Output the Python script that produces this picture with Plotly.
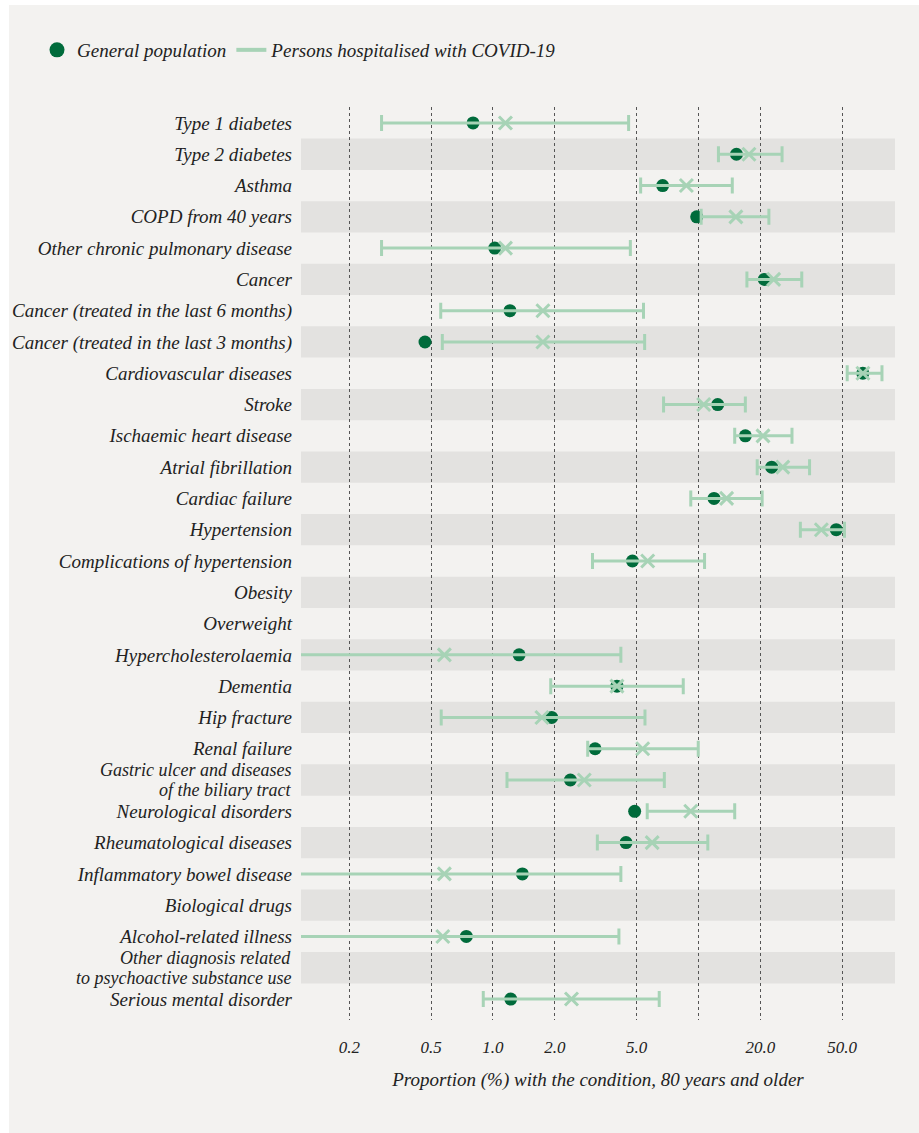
import plotly.graph_objects as go

categories = [
    "Type 1 diabetes", "Type 2 diabetes", "Asthma", "COPD from 40 years",
    "Other chronic pulmonary disease", "Cancer",
    "Cancer (treated in the last 6 months)", "Cancer (treated in the last 3 months)",
    "Cardiovascular diseases", "Stroke", "Ischaemic heart disease",
    "Atrial fibrillation", "Cardiac failure", "Hypertension",
    "Complications of hypertension", "Obesity", "Overweight",
    "Hypercholesterolaemia", "Dementia", "Hip fracture", "Renal failure",
    "Gastric ulcer and diseases<br>of the biliary tract",
    "Neurological disorders", "Rheumatological diseases",
    "Inflammatory bowel disease", "Biological drugs", "Alcohol-related illness",
    "Other diagnosis related<br>to psychoactive substance use",
    "Serious mental disorder",
]

general_pop = [0.80, 15.3, 6.69, 9.8, 1.02, 20.9, 1.21, 0.467, 63.0, 12.4, 16.9,
               22.7, 11.9, 46.8, 4.77, None, None, 1.34, 4.01, 1.93, 3.14, 2.38,
               4.89, 4.44, 1.39, None, 0.742, None, 1.22]

covid_est = [1.15, 17.6, 8.73, 15.2, 1.15, 23.2, 1.75, 1.75, 63.1, 10.6, 20.6,
             25.7, 13.7, 39.6, 5.66, None, None, 0.58, 4.01, 1.73, 5.35, 2.78,
             9.17, 5.95, 0.58, None, 0.57, None, 2.41]

covid_low = [0.287, 12.5, 5.23, 10.3, 0.287, 17.2, 0.557, 0.567, 52.9, 6.76, 15.0,
             19.3, 9.17, 31.3, 3.05, None, None, 0.05, 1.91, 0.56, 2.89, 1.17,
             5.63, 3.22, 0.05, None, 0.05, None, 0.897]

covid_high = [4.57, 25.5, 14.6, 22.0, 4.66, 31.8, 5.40, 5.47, 78.1, 16.9, 28.5,
              34.7, 20.4, 51.3, 10.7, None, None, 4.19, 8.43, 5.49, 9.97, 6.82,
              15.0, 11.1, 4.19, None, 4.10, None, 6.44]

tick_vals = [0.2, 0.5, 1.0, 2.0, 5.0, 10.0, 20.0, 50.0]
tick_text = ["0.2", "0.5", "1.0", "2.0", "5.0", "", "20.0", "50.0"]

DARK = "#006b3b"
LIGHT = "#a7d3b6"
PANEL = "#f3f2f0"
BAND = "#e3e2e0"
TEXT = "#222222"
FONT = "Liberation Serif"
YSIZE = 19
MULTI_SIZE = 18
LINE_GAP = 20

err_plus = [None if h is None else h - e for h, e in zip(covid_high, covid_est)]
err_minus = [None if l is None else e - l for l, e in zip(covid_low, covid_est)]

fig = go.Figure()

fig.add_trace(go.Scatter(
    x=general_pop, y=categories, mode="markers",
    marker=dict(symbol="circle", size=13, color=DARK),
    showlegend=False, hoverinfo="skip",
))

fig.add_trace(go.Scatter(
    x=covid_est, y=categories, mode="markers",
    marker=dict(symbol="x-thin", size=13, color=LIGHT, line=dict(color=LIGHT, width=3)),
    error_x=dict(type="data", symmetric=False, array=err_plus, arrayminus=err_minus,
                 color=LIGHT, thickness=3, width=8),
    showlegend=False, hoverinfo="skip",
))

# legend entries
fig.add_trace(go.Scatter(
    x=[None], y=[None], mode="markers", name="General population",
    marker=dict(symbol="circle", size=15, color=DARK),
))
fig.add_trace(go.Scatter(
    x=[None], y=[None], mode="lines", name="Persons hospitalised with COVID-19",
    line=dict(color=LIGHT, width=4),
))

shapes = []
for i in range(len(categories)):
    if i % 2 == 1:
        shapes.append(dict(type="rect", xref="paper", yref="y", x0=0, x1=1,
                           y0=i - 0.5, y1=i + 0.5, fillcolor=BAND, line=dict(width=0),
                           layer="below"))

W, H = 919, 1133
ml, mr, mt, mb = 301, 24, 107, 113
pw, ph = W - ml - mr, H - mt - mb
def px_x(p):
    return (p - ml) / pw
def px_y(p):
    return 1 - (p - mt) / ph
shapes.append(dict(type="rect", xref="paper", yref="paper", x0=px_x(0), x1=px_x(9),
                   y0=px_y(H), y1=px_y(0), fillcolor="white", line=dict(width=0), layer="below"))
shapes.append(dict(type="rect", xref="paper", yref="paper", x0=px_x(0), x1=px_x(W),
                   y0=px_y(5), y1=px_y(0), fillcolor="white", line=dict(width=0), layer="below"))

# y tick labels: single-line via axis, two-line via tight annotations
tick_labels = []
annotations = []
for i, c in enumerate(categories):
    if "<br>" in c:
        tick_labels.append("")
        lines = c.split("<br>")
        n = len(lines)
        for k, ln in enumerate(lines):
            annotations.append(dict(
                text=ln, xref="paper", yref="y", x=0, y=i, xanchor="right",
                yanchor="middle", xshift=-8,
                yshift=(n - 1) * LINE_GAP / 2 - k * LINE_GAP,
                showarrow=False,
                font=dict(size=MULTI_SIZE, family=FONT, style="italic", color=TEXT)))
    else:
        tick_labels.append(c)

fig.update_layout(
    width=W, height=H,
    margin=dict(l=ml, r=mr, t=mt, b=mb),
    paper_bgcolor=PANEL, plot_bgcolor=PANEL,
    font=dict(family=FONT, size=17, color=TEXT, style="italic"),
    shapes=shapes,
    annotations=annotations,
    legend=dict(orientation="h", x=px_x(37), y=px_y(31), xanchor="left", yanchor="top",
                font=dict(size=19, family=FONT, style="italic", color=TEXT),
                bgcolor="rgba(0,0,0,0)", itemwidth=30, tracegroupgap=0),
    xaxis=dict(type="log", range=[-0.934, 1.956], tickvals=tick_vals, ticktext=tick_text,
               showgrid=True, gridcolor="#555555", griddash="dot", gridwidth=1,
               zeroline=False, showline=False, ticks="", ticklabelstandoff=15,
               tickfont=dict(size=17),
               title=dict(text="Proportion (%) with the condition, 80 years and older",
                          font=dict(size=19), standoff=16)),
    yaxis=dict(type="category", categoryorder="array", categoryarray=categories,
               tickmode="array", tickvals=categories, ticktext=tick_labels,
               range=[28.67, -0.51], showgrid=False, zeroline=False, showline=False,
               ticks="", ticklabelstandoff=8, tickfont=dict(size=YSIZE)),
)

fig.write_html("out.html")
